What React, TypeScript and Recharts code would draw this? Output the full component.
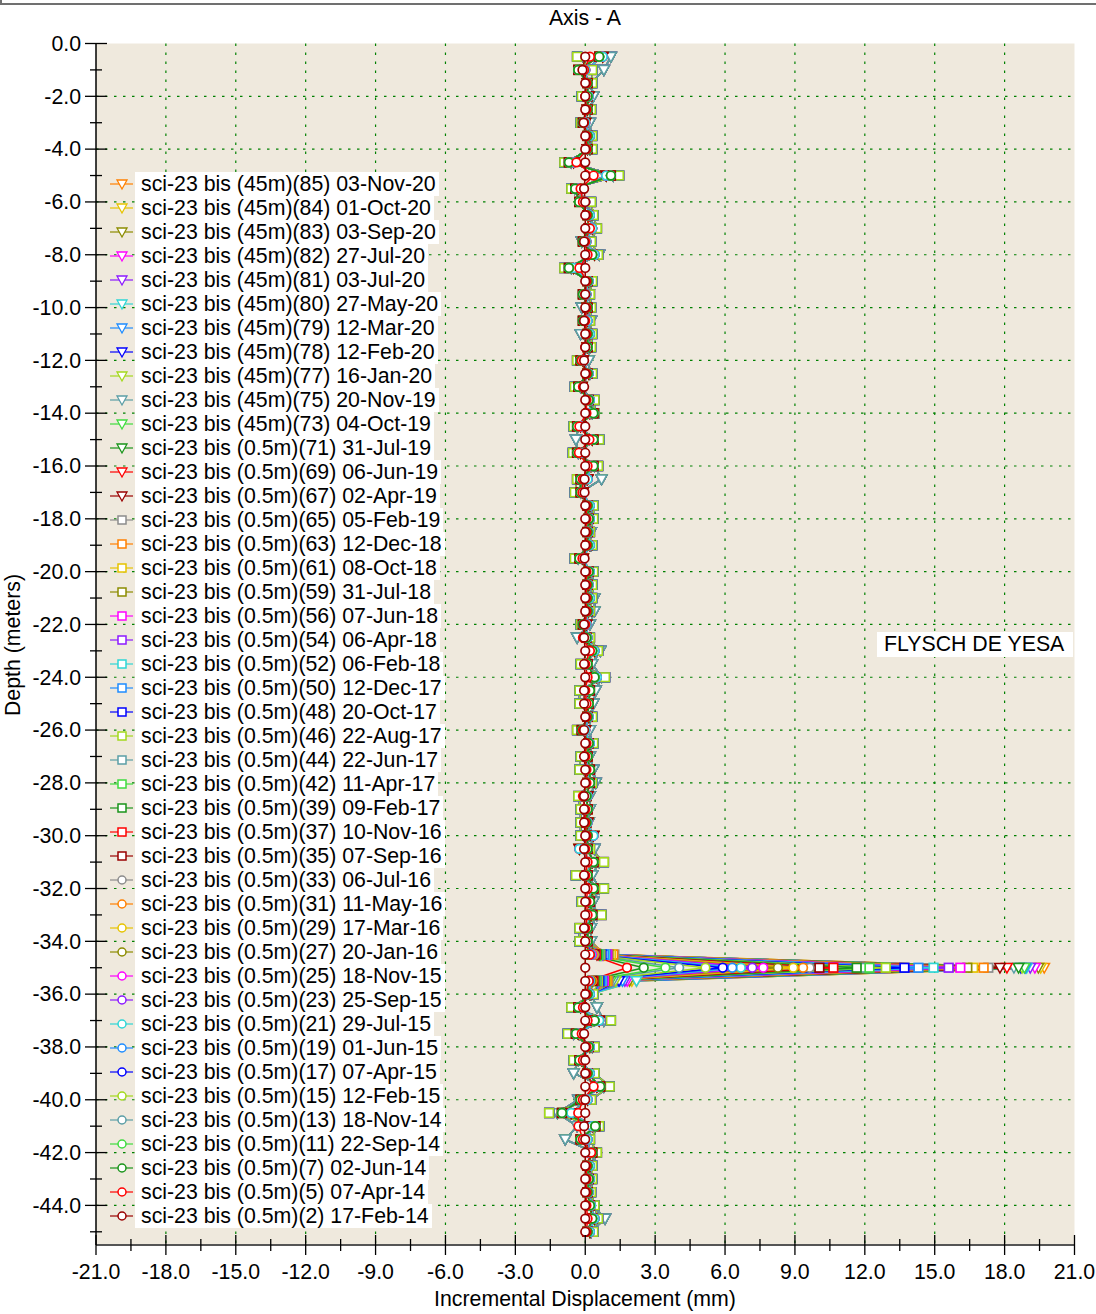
import React from 'react';
import { LineChart, Line, XAxis, YAxis, CartesianGrid } from 'recharts';

const FONT = '"Liberation Sans", Arial, Helvetica, sans-serif';
const BG = '#EFE9DD';
const GRID = '#008000';

// depth of each reading (m)
const depths = [
  0.5, 1, 1.5, 2, 2.5, 3, 3.5, 4, 4.5, 5,
  5.5, 6, 6.5, 7, 7.5, 8, 8.5, 9, 9.5, 10,
  10.5, 11, 11.5, 12, 12.5, 13, 13.5, 14, 14.5, 15,
  15.5, 16, 16.5, 17, 17.5, 18, 18.5, 19, 19.5, 20,
  20.5, 21, 21.5, 22, 22.5, 23, 23.5, 24, 24.5, 25,
  25.5, 26, 26.5, 27, 27.5, 28, 28.5, 29, 29.5, 30,
  30.5, 31, 31.5, 32, 32.5, 33, 33.5, 34, 34.5, 35,
  35.5, 36, 36.5, 37, 37.5, 38, 38.5, 39, 39.5, 40,
  40.5, 41, 41.5, 42, 42.5, 43, 43.5, 44, 44.5, 45,
];

// readings, newest first (legend order)
const readingNo = [85, 84, 83, 82, 81, 80, 79, 78, 77, 75, 73, 71, 69, 67, 65, 63, 61, 59, 56, 54, 52, 50, 48, 46, 44, 42, 39, 37, 35, 33, 31, 29, 27, 25, 23, 21, 19, 17, 15, 13, 11, 7, 5, 2];
const readingDate = [
  '03-Nov-20', '01-Oct-20', '03-Sep-20', '27-Jul-20', '03-Jul-20', '27-May-20', '12-Mar-20', '12-Feb-20', '16-Jan-20', '20-Nov-19',
  '04-Oct-19', '31-Jul-19', '06-Jun-19', '02-Apr-19', '05-Feb-19', '12-Dec-18', '08-Oct-18', '31-Jul-18', '07-Jun-18', '06-Apr-18',
  '06-Feb-18', '12-Dec-17', '20-Oct-17', '22-Aug-17', '22-Jun-17', '11-Apr-17', '09-Feb-17', '10-Nov-16', '07-Sep-16', '06-Jul-16',
  '11-May-16', '17-Mar-16', '20-Jan-16', '18-Nov-15', '25-Sep-15', '29-Jul-15', '01-Jun-15', '07-Apr-15', '12-Feb-15', '18-Nov-14',
  '22-Sep-14', '02-Jun-14', '07-Apr-14', '17-Feb-14',
];

// which profile each reading follows away from the shear zone
const seriesGroup = 'FFFFFFFFFFCCCCDDDDDDDDDDBBBBBCCCCCCCBBBBBBAR';

// incremental displacement profiles (mm), null = see shear zone arrays
const profileR = [
  0, -0.12, 0, 0, 0, -0.07, 0, 0, 0, 0,
  -0.05, 0, 0, 0, -0.05, 0, 0, 0, 0, 0,
  -0.05, 0, 0, -0.05, 0, -0.05, 0, 0, 0, 0,
  0, 0, -0.03, -0.03, 0, 0, 0, 0, -0.03, 0,
  0, 0, 0, -0.05, -0.05, 0, -0.05, 0, -0.05, -0.05,
  0, -0.05, 0, -0.05, 0, 0, -0.05, -0.05, -0.05, 0,
  -0.05, 0, -0.05, 0, 0, 0, -0.05, 0, null, null,
  null, 0, 0, 0, -0.05, 0, 0, 0, 0, 0,
  0, -0.05, 0, 0, 0, 0, 0, 0, 0, 0,
];
const profileA = [
  0.2, -0.05, 0.05, 0, 0.05, -0.05, 0.05, 0.05, -0.38, 0.36,
  -0.2, -0.1, 0.05, 0.2, 0, 0.1, -0.25, 0.05, 0, 0.05,
  0, 0.05, 0, -0.15, 0.05, -0.1, 0.05, 0.05, -0.25, 0.18,
  -0.27, 0.1, -0.1, -0.12, 0.05, 0.05, 0.05, 0.05, -0.12, 0.05,
  0.05, 0.05, 0.05, 0, -0.1, 0.2, 0, 0.1, 0, 0.05,
  0.05, -0.1, 0.05, 0, 0.05, 0.05, -0.1, 0, 0, 0.05,
  0, 0.1, 0, 0.1, 0.05, 0.1, 0, 0, null, null,
  null, 0.05, -0.1, 0.1, -0.15, 0.05, -0.1, 0.05, 0.36, -0.1,
  -0.3, -0.29, -0.1, 0.25, 0.05, 0.05, 0.05, 0.05, 0.1, 0.05,
];
const profileB = [
  0.6, -0.3, 0.1, 0.1, 0.1, -0.1, 0.1, 0.1, -0.7, 1.1,
  -0.43, -0.26, 0.1, 0.15, -0.1, 0.3, -0.7, 0.1, -0.1, 0.1,
  -0.1, 0.1, 0.1, -0.2, 0.1, -0.3, 0.15, 0.35, -0.35, 0.35,
  -0.35, 0.35, -0.2, -0.2, 0.1, 0.15, 0.1, 0.1, -0.25, 0.15,
  0.1, 0.1, 0.1, -0.1, 0.05, 0.3, 0.1, 0.4, 0.2, 0.15,
  0.1, -0.15, 0.15, 0.1, 0.2, 0.2, 0.05, 0.1, 0.05, 0.1,
  0.1, 0.35, 0.1, 0.35, 0.2, 0.3, 0.1, 0.1, null, null,
  null, 0.1, -0.3, 0.4, -0.4, 0.15, -0.25, 0.1, 0.64, -0.2,
  -1.0, 0.43, -0.2, 0.3, 0.1, 0.15, 0.1, 0.2, 0.3, 0.1,
];
const profileC = [
  0.75, 0, 0.1, 0.15, 0.1, 0, 0.2, 0.1, -0.5, 0.9,
  -0.3, 0, 0.2, 0.3, 0.05, 0.4, -0.5, 0.15, 0.05, 0.1,
  0.1, 0.2, 0.1, -0.1, 0.15, -0.15, 0.2, 0.2, -0.2, 0.3,
  -0.2, 0.25, 0.1, -0.1, 0.2, 0.2, 0.15, 0.2, -0.1, 0.2,
  0.15, 0.2, 0.15, 0.05, 0.1, 0.4, 0.05, 0.5, 0.1, 0.1,
  0.15, 0, 0.2, 0.05, 0.1, 0.15, 0.1, 0.05, 0.1, 0.35,
  -0.25, 0.3, 0.05, 0.3, 0.15, 0.25, 0.05, 0.05, null, null,
  null, 0.2, -0.2, 0.6, -0.3, 0.2, -0.15, 0.2, 0.5, 0.1,
  -0.6, 0.3, 0.1, 0.2, 0.2, 0.2, 0.15, 0.25, 0.4, 0.2,
];
const profileD = [
  -0.35, 0.3, 0.3, -0.15, 0.25, -0.2, 0.3, 0.3, -0.9, 1.45,
  -0.6, 0.25, 0.35, 0.5, 0.25, 0.55, -0.9, 0.3, 0.2, 0.25,
  0.2, 0.3, 0.25, -0.35, 0.3, -0.45, 0.4, 0.4, -0.5, 0.6,
  -0.53, 0.55, -0.35, -0.45, 0.35, 0.35, 0.2, 0.3, -0.45, 0.35,
  0.3, 0.3, 0.2, -0.2, 0.2, 0.55, -0.2, 0.85, -0.25, -0.25,
  0.3, -0.35, 0.35, -0.2, -0.25, 0.3, -0.3, -0.2, -0.2, -0.2,
  0.2, 0.8, -0.4, 0.8, -0.15, 0.7, -0.25, -0.25, null, null,
  null, 0.35, -0.6, 1.1, -0.75, 0.4, -0.5, 0.4, 1.05, 0.25,
  -1.55, 0.6, 0.2, 0.5, 0.3, 0.3, 0.25, 0.4, 0.55, 0.35,
];
const profileF = [
  1.1, 0.8, 0.25, 0.35, 0.2, 0.2, 0.25, 0.2, -0.6, 1.2,
  -0.45, 0.1, 0.25, 0.35, -0.15, 0.6, -0.6, 0.2, 0.15, -0.15,
  0.25, -0.2, 0.2, 0.15, 0.2, -0.2, 0.3, 0.3, -0.3, -0.4,
  -0.3, 0.4, 0.7, -0.2, 0.25, 0.3, 0.25, 0.25, -0.3, 0.3,
  0.25, 0.4, 0.4, 0.2, -0.35, 0.65, 0.3, 0.7, 0.45, 0.35,
  0.2, 0.2, 0.25, 0.2, 0.35, 0.45, 0.2, 0.2, 0.15, 0.15,
  0.4, 0.6, 0.3, 0.6, 0.35, 0.5, 0.25, 0.25, null, null,
  null, 0.25, 0.5, 0.8, -0.5, 0.3, -0.3, -0.5, 0.8, -0.3,
  -1.2, -0.35, -0.86, 0.4, 0.25, 0.25, 0.2, 0.35, 0.85, 0.25,
];

// shear zone, one value per reading (newest first)
const shearAbove = [0.85, 0.8, 0.8, 0.75, 0.75, 0.7, 0.7, 0.65, 0.7, 0.6, 0.65, 0.6, 0.55, 0.5, 1.25, 1.2, 1.1, 1.0, 0.95, 0.9, 0.85, 0.8, 0.7, 0.65, 0.6, 0.55, 0.5, 0.45, 0.4, 0.4, 0.35, 0.35, 0.3, 0.3, 0.25, 0.25, 0.2, 0.2, 0.15, 0.15, 0.1, 0.1, 0.2, 0];
const shearPeak = [19.7, 19.55, 19.45, 19.3, 19.1, 18.95, 18.9, 18.7, 18.75, 18.4, 18.85, 18.6, 18.1, 17.8, 17.3, 17.1, 16.65, 16.4, 16.1, 15.6, 14.95, 14.3, 13.7, 12.9, 12.0, 12.2, 11.65, 10.65, 10.05, 9.63, 9.35, 8.93, 8.27, 7.64, 7.17, 6.68, 6.31, 5.9, 5.16, 4.03, 3.44, 2.51, 1.79, 0];
const shearBelow = [2.2, 2.0, 1.9, 1.8, 1.7, 2.2, 1.6, 1.45, 1.3, 1.2, 1.1, 1.0, 0.9, 0.8, 1.0, 0.95, 0.9, 0.85, 0.8, 0.75, 0.7, 0.65, 0.6, 0.55, 0.5, 0.45, 0.4, 0.35, 0.3, 0.3, 0.3, 0.25, 0.25, 0.2, 0.2, 0.2, 0.15, 0.15, 0.1, 0.1, 0.1, 0.1, 0.15, 0];

const xTicks = [-21, -19.5, -18, -16.5, -15, -13.5, -12, -10.5, -9, -7.5, -6, -4.5, -3, -1.5, 0, 1.5, 3, 4.5, 6, 7.5, 9, 10.5, 12, 13.5, 15, 16.5, 18, 19.5, 21];
const yTicks = [0, -1, -2, -3, -4, -5, -6, -7, -8, -9, -10, -11, -12, -13, -14, -15, -16, -17, -18, -19, -20, -21, -22, -23, -24, -25, -26, -27, -28, -29, -30, -31, -32, -33, -34, -35, -36, -37, -38, -39, -40, -41, -42, -43, -44, -45];
const gridX = [-18, -15, -12, -9, -6, -3, 0, 3, 6, 9, 12, 15, 18];
const gridY = [-2, -4, -6, -8, -10, -12, -14, -16, -18, -20, -22, -24, -26, -28, -30, -32, -34, -36, -38, -40, -42, -44];

const palette = ['#990000', '#FF0000', '#1A941A', '#3FDC3F', '#5B9EA6', '#A3D91C', '#0000FF', '#1E8CFF', '#2ED6D6', '#8C1AFF', '#FF00FF', '#8C8C00', '#E6C300', '#FF8000', '#8C8C8C'];
const shapes = ['circle', 'square', 'triangle'];

const profiles: Record<string, (number | null)[]> = { R: profileR, A: profileA, B: profileB, C: profileC, D: profileD, F: profileF };

const series = readingNo.map((no, k) => {
  const age = readingNo.length - 1 - k;
  return {
    key: `r${no}`,
    label: `sci-23 bis (${no >= 73 ? '45m' : '0.5m'})(${no}) ${readingDate[k]}`,
    color: palette[age % 15],
    shape: shapes[Math.floor(age / 15)],
    group: seriesGroup[k],
  };
});

const rows = depths.map((d, i) => {
  const row: Record<string, number> = { depth: -d };
  series.forEach((s, k) => {
    let v = profiles[s.group][i];
    if (v == null) v = d === 34.5 ? shearAbove[k] : d === 35 ? shearPeak[k] : shearBelow[k];
    row[s.key] = v;
  });
  return row;
});

function Marker({ cx, cy, shape, color, big }: { cx: number; cy: number; shape: string; color: string; big?: boolean }) {
  const r = big ? 4.3 : 4;
  const sw = big ? 1.7 : 1.5;
  if (shape === 'circle') return <circle cx={cx} cy={cy} r={r} fill="#fff" stroke={color} strokeWidth={sw} />;
  if (shape === 'square') return <rect x={cx - r} y={cy - r} width={2 * r} height={2 * r} fill="#fff" stroke={color} strokeWidth={sw} />;
  return <path d={`M${cx - r - 1},${cy - r}L${cx + r + 1},${cy - r}L${cx},${cy + r + 1}Z`} fill="#fff" stroke={color} strokeWidth={sw - 0.2} />;
}

const isMajor = (v: number, step: number) => Math.abs(v / step - Math.round(v / step)) < 1e-6;
const px = (axis: any, v: number) => {
  const s = axis?.scale;
  if (!s) return null;
  return typeof s === 'function' ? s(v) : s.map ? s.map(v) : null;
};

const BottomTick = (p: any) => {
  const major = isMajor(p.payload.value, 3);
  const len = major ? 10 : 6;
  return (
    <g>
      <line x1={p.x} x2={p.x} y1={p.y - len} y2={p.y + len} stroke="#000" strokeWidth={1.3} />
      {major && (
        <text x={p.x} y={p.y + 34} textAnchor="middle" fontSize={21.3} fontFamily={FONT} fill="#000">
          {p.payload.value.toFixed(1)}
        </text>
      )}
    </g>
  );
};
const TopTick = (p: any) => {
  const len = isMajor(p.payload.value, 3) ? 10 : 6;
  return <line x1={p.x} x2={p.x} y1={p.y} y2={p.y + len} stroke="#000" strokeWidth={1.3} />;
};
const LeftTick = (p: any) => {
  const major = isMajor(p.payload.value, 2);
  const len = major ? 11 : 6;
  return (
    <g>
      <line x1={p.x - len} x2={p.x + len} y1={p.y} y2={p.y} stroke="#000" strokeWidth={1.3} />
      {major && (
        <text x={p.x - 15} y={p.y} dy="0.34em" textAnchor="end" fontSize={21.3} fontFamily={FONT} fill="#000">
          {p.payload.value.toFixed(1)}
        </text>
      )}
    </g>
  );
};
const RightTick = (p: any) => {
  const len = isMajor(p.payload.value, 2) ? 10 : 6;
  return <line x1={p.x - len} x2={p.x} y1={p.y} y2={p.y} stroke="#000" strokeWidth={1.3} />;
};

export default function App() {
  return (
    <div style={{ position: 'absolute', left: 0, top: 0, width: 1096, height: 1314, background: '#fff', fontFamily: FONT, color: '#000' }}>
      <div style={{ position: 'absolute', left: 0, top: 3, width: 1096, height: 2, background: '#707070' }} />
      <div style={{ position: 'absolute', left: 0, top: 0, width: 2, height: 5, background: '#707070' }} />
      <LineChart width={1096} height={1314} layout="vertical" data={rows} margin={{ top: 43.5, right: 21.5, bottom: 0, left: 0 }}>
        <CartesianGrid
          fill={BG}
          fillOpacity={1}
          stroke={GRID}
          strokeWidth={1.2}
          strokeDasharray="2.5 6.5"
          horizontalCoordinatesGenerator={({ yAxis }: any) => gridY.map((v) => px(yAxis, v)).filter((v) => v != null)}
          verticalCoordinatesGenerator={({ xAxis }: any) => gridX.map((v) => px(xAxis, v)).filter((v) => v != null)}
        />
        <XAxis type="number" domain={[-21, 21]} ticks={xTicks} interval={0} allowDataOverflow height={69} tickSize={0} tickMargin={0} tickLine={false} tick={BottomTick} axisLine={{ stroke: '#555', strokeWidth: 2 }} />
        <XAxis xAxisId="top" orientation="top" type="number" domain={[-21, 21]} ticks={xTicks} interval={0} allowDataOverflow height={0} tickSize={0} tickMargin={0} tickLine={false} tick={TopTick} axisLine={{ stroke: '#000', strokeWidth: 1.5 }} />
        <YAxis type="number" dataKey="depth" reversed domain={[-45.5, 0]} ticks={yTicks} interval={0} allowDataOverflow width={96} tickSize={0} tickMargin={0} tickLine={false} tick={LeftTick} axisLine={{ stroke: '#000', strokeWidth: 1.5 }} />
        <YAxis yAxisId="right" orientation="right" type="number" dataKey="depth" reversed domain={[-45.5, 0]} ticks={yTicks} interval={0} allowDataOverflow width={0} tickSize={0} tickMargin={0} tickLine={false} tick={RightTick} axisLine={{ stroke: '#666', strokeWidth: 2 }} />
        {series.map((s) => (
          <Line
            key={s.key}
            dataKey={s.key}
            stroke={s.color}
            strokeWidth={1.5}
            isAnimationActive={false}
            activeDot={false}
            dot={(d: any) => (d.cx == null ? <g key={d.index} /> : <Marker key={d.index} cx={d.cx} cy={d.cy} shape={s.shape} color={s.color} big />)}
          />
        ))}
      </LineChart>

      <div style={{ position: 'absolute', left: 485, top: 6, width: 200, textAlign: 'center', fontSize: 21.3, lineHeight: '24px' }}>Axis - A</div>
      <div style={{ position: 'absolute', left: 335, top: 1287, width: 500, textAlign: 'center', fontSize: 21.3, lineHeight: '24px' }}>Incremental Displacement (mm)</div>
      <div style={{ position: 'absolute', left: 13, top: 645, transform: 'translate(-50%, -50%) rotate(-90deg)', whiteSpace: 'nowrap', fontSize: 21.3, lineHeight: '24px' }}>Depth (meters)</div>
      <div style={{ position: 'absolute', left: 877, top: 632, width: 196, height: 25, background: '#fff', fontSize: 21.3, lineHeight: '25px', paddingLeft: 7, boxSizing: 'border-box', whiteSpace: 'nowrap' }}>FLYSCH DE YESA</div>

      <div style={{ position: 'absolute', left: 105, top: 172, fontSize: 21.3 }}>
        {series.map((s) => (
          <div key={s.key} style={{ height: 24, display: 'flex', alignItems: 'center' }}>
            <svg width={30} height={24} style={{ display: 'block' }}>
              <line x1={5} x2={28} y1={12} y2={12} stroke={s.color} strokeWidth={1.2} />
              <Marker cx={17} cy={12} shape={s.shape} color={s.color} />
            </svg>
            <span style={{ background: '#fff', height: 24, lineHeight: '24px', padding: '0 3px 0 6px', whiteSpace: 'nowrap' }}>{s.label}</span>
          </div>
        ))}
      </div>
    </div>
  );
}
